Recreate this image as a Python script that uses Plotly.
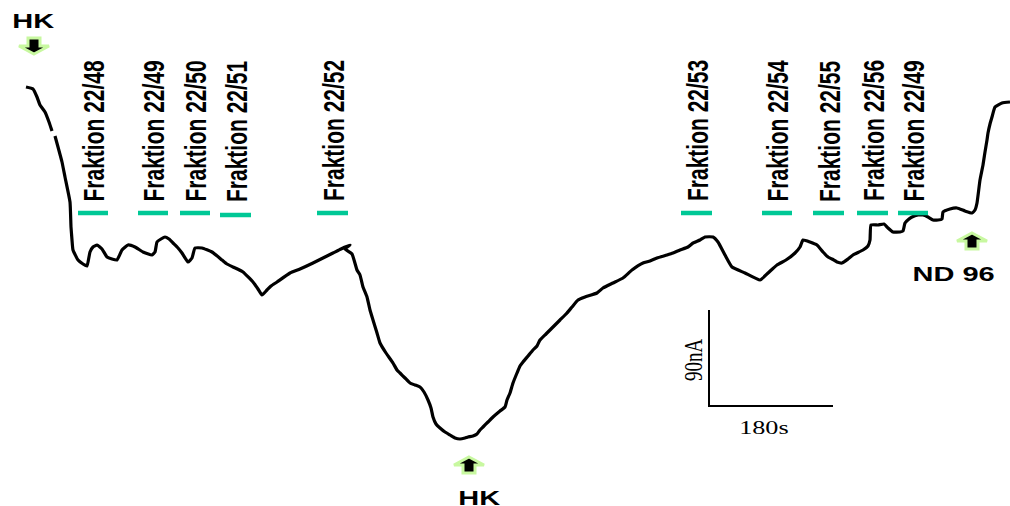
import plotly.graph_objects as go

# ---- Data (trace in screen-like units: t to the right, signal downward) ----
trace_t = [26, 33, 37, 40, 45, 49, 52, None,
           55, 58, 62, 65, 70, 71, 72, 73, 78, 83, 87, 90, 93, 97, 102, 107, 112, 117, 122, 128, 135,
           143, 152, 155, 157, 161, 165, 169, 173, 178, 182, 188, 192, 195, 202, 212, 222, 227, 233,
           243, 253, 258, 262, 267, 271, 277, 290, 300, 313, 323, 333, 341, 350, 345, 352, 357, 360,
           363, 367, 370, 373, 377, 380, 386, 393, 397, 400, 405, 410, 415, 420, 424, 428, 431, 433,
           436, 440, 445, 450, 455, 460, 465, 468, 473, 477, 480, 483, 488, 493, 500, 505, 507, 510,
           513, 517, 520, 523, 528, 533, 537, 540, 546, 553, 560, 567, 572, 578, 585, 597, 603, 613,
           623, 632, 643, 650, 657, 667, 673, 680, 688, 693, 700, 705, 713, 718, 725, 732, 745, 760,
           768, 777, 786, 795, 800, 803, 810, 817, 823, 828, 832, 837, 842, 848, 853, 863, 868, 870,
           871, 878, 884, 888, 893, 900, 903, 905, 909, 912, 918, 923, 928, 933, 938, 942, 943, 950,
           957, 965, 972, 975, 977, 980, 983, 985, 987, 988, 990, 992, 995, 1002, 1010]
trace_y = [87, 89, 97, 105, 112, 122, 131, None,
           136, 147, 162, 177, 202, 227, 240, 250, 260, 264, 266, 252, 247, 245, 249, 257, 259, 260, 250, 245, 247,
           252, 255, 252, 242, 239, 237, 239, 243, 248, 253, 262, 258, 248, 248, 252, 260, 264, 267,
           272, 282, 289, 295, 290, 286, 282, 273, 269, 263, 258, 253, 249, 245, 249, 254, 270, 275,
           287, 297, 310, 320, 333, 343, 353, 363, 370, 373, 378, 383, 385, 387, 392, 400, 408, 417,
           424, 428, 432, 435, 438, 439, 438, 437, 436, 434, 430, 427, 422, 417, 411, 407, 400, 393,
           383, 373, 366, 362, 356, 350, 346, 340, 334, 327, 320, 313, 307, 300, 297, 293, 288, 283,
           278, 270, 263, 261, 258, 255, 253, 250, 247, 243, 240, 237, 237, 242, 255, 267, 273, 280,
           273, 265, 260, 253, 247, 240, 242, 245, 252, 257, 259, 262, 263, 259, 255, 250, 246, 240,
           225, 225, 224, 228, 232, 232, 231, 223, 219, 217, 215, 215, 217, 220, 220, 219, 212, 209,
           208, 211, 213, 210, 203, 180, 165, 152, 140, 133, 124, 117, 107, 103, 102]

fraction_labels = ["Fraktion 22/48", "Fraktion 22/49", "Fraktion 22/50", "Fraktion 22/51",
                   "Fraktion 22/52", "Fraktion 22/53", "Fraktion 22/54", "Fraktion 22/55",
                   "Fraktion 22/56", "Fraktion 22/49"]
fraction_start = [78, 138, 180, 220, 317, 681, 762, 813, 857, 898]
fraction_end = [108, 168, 210, 251, 348, 712, 792, 844, 888, 928]
fraction_level = [213, 213, 213, 215, 213, 213, 213, 213, 213, 213]
fraction_label_mid = 131

marker_labels = ["HK", "HK", "ND 96"]
marker_t = [34, 469, 972]
marker_y = [46, 465, 241]
marker_dir = ["down", "up", "up"]
marker_text_t = [33, 479, 954]
marker_text_y = [20, 497, 273]

scale_t = [709, 709, 833]
scale_y = [310, 406, 406]
scale_labels = ["90nA", "180s"]

W, H = 1010, 506
fig = go.Figure()

fig.add_trace(go.Scatter(x=trace_t, y=trace_y, mode="lines",
                         line=dict(color="black", width=3.2, shape="spline", smoothing=0.4),
                         connectgaps=False, hoverinfo="skip", showlegend=False))

# scale bar
fig.add_trace(go.Scatter(x=scale_t, y=scale_y, mode="lines",
                         line=dict(color="black", width=2), hoverinfo="skip", showlegend=False))

shapes = []
annotations = []
bar_color = "rgb(0,200,150)"
for lab, x0, x1, yl in zip(fraction_labels, fraction_start, fraction_end, fraction_level):
    shapes.append(dict(type="line", xref="x", yref="y", x0=x0, x1=x1, y0=yl, y1=yl,
                       line=dict(color=bar_color, width=4.5)))
    annotations.append(dict(x=(x0 + x1) / 2 + 0.5, y=fraction_label_mid, xref="x", yref="y",
                            text=f"<b>{lab}</b>", textangle=-90, showarrow=False,
                            xanchor="center", yanchor="middle",
                            font=dict(family="Liberation Sans, Arial", size=21, color="black")))

def arrow_path(cx, cy, direction, hw=15, sw=6, hh=8):
    s = -1 if direction == "up" else 1
    pts = [(cx, cy + s * hh), (cx + hw, cy), (cx + sw, cy), (cx + sw, cy - s * hh),
           (cx - sw, cy - s * hh), (cx - sw, cy), (cx - hw, cy)]
    return "M " + " L ".join(f"{x},{y}" for x, y in pts) + " Z"

for lab, mt, my, md, tt, ty in zip(marker_labels, marker_t, marker_y, marker_dir,
                                   marker_text_t, marker_text_y):
    shapes.append(dict(type="path", xref="x", yref="y", path=arrow_path(mt, my, md),
                       fillcolor="black", line=dict(color="rgb(200,248,160)", width=3)))
    annotations.append(dict(x=tt, y=ty, xref="x", yref="y", text=f"<b>{lab}</b>", showarrow=False,
                            xanchor="center", yanchor="middle",
                            font=dict(family="Liberation Sans, Arial", size=21, color="black")))

annotations.append(dict(x=693, y=360, xref="x", yref="y", text=scale_labels[0], textangle=-90,
                        showarrow=False, xanchor="center", yanchor="middle",
                        font=dict(family="Liberation Serif", size=19, color="black")))
annotations.append(dict(x=764, y=427, xref="x", yref="y", text=scale_labels[1],
                        showarrow=False, xanchor="center", yanchor="middle",
                        font=dict(family="Liberation Serif", size=19, color="black")))

fig.update_layout(
    width=W, height=H, margin=dict(l=0, r=0, t=0, b=0),
    paper_bgcolor="white", plot_bgcolor="white",
    xaxis=dict(range=[0, W], visible=False, fixedrange=True),
    yaxis=dict(range=[H, 0], visible=False, fixedrange=True),
    shapes=shapes, annotations=annotations, showlegend=False,
)

# the original figure's lettering is horizontally widened; reproduce that and drop page margin
post_js = """
document.body.style.margin = '0';
document.body.style.overflow = 'hidden';
var gd = document.getElementById('{plot_id}');
gd.querySelectorAll('g.annotation').forEach(function (g) {
    g.style.transformBox = 'fill-box';
    g.style.transformOrigin = 'center';
    g.style.transform = 'scaleX(1.38)';
});
"""

fig.write_html("out.html", post_script=post_js, config={"displayModeBar": False})
